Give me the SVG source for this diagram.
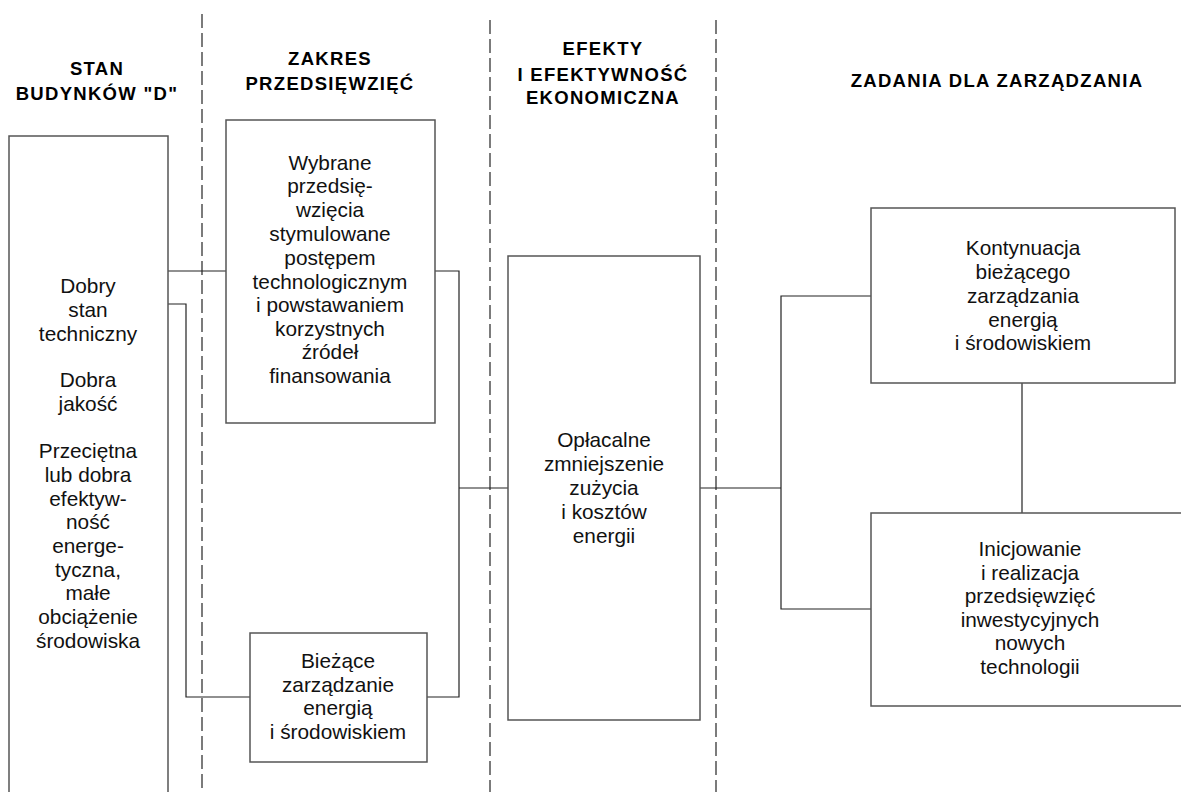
<svg xmlns="http://www.w3.org/2000/svg" width="1181" height="792" viewBox="0 0 1181 792">
<style>
.box{fill:#fff;stroke:#555;stroke-width:1.5}
.dash{stroke:#444;stroke-width:1.4;stroke-dasharray:14 5;fill:none}
.con{stroke:#222;stroke-width:1.2;fill:none}
.t{font-family:"Liberation Sans",Arial,sans-serif;font-size:20.8px;fill:#111;text-anchor:middle}
.h{font-family:"Liberation Sans",Arial,sans-serif;font-size:18.5px;font-weight:bold;fill:#000;text-anchor:middle;letter-spacing:1.3px}
</style>
<rect width="1181" height="792" fill="#fff"/>
<g id="dividers">
<line class="dash" x1="202" y1="14" x2="202" y2="792"/>
<line class="dash" x1="490" y1="20" x2="490" y2="792"/>
<line class="dash" x1="716" y1="20" x2="716" y2="792"/>
</g>
<g id="headers">
<text class="h" x="97" y="75">STAN</text>
<text class="h" x="97" y="100">BUDYNKÓW "D"</text>
<text class="h" x="330" y="65">ZAKRES</text>
<text class="h" x="330" y="90">PRZEDSIĘWZIĘĆ</text>
<text class="h" x="603" y="55">EFEKTY</text>
<text class="h" x="603" y="81">I EFEKTYWNOŚĆ</text>
<text class="h" x="603" y="104">EKONOMICZNA</text>
<text class="h" x="997" y="87">ZADANIA DLA ZARZĄDZANIA</text>
</g>
<g id="connectors">
<polyline class="con" points="168,271 226,271"/>
<polyline class="con" points="168,304 186,304 186,697 250,697"/>
<polyline class="con" points="435,271 459,271 459,697 427,697"/>
<polyline class="con" points="459,488 508,488"/>
<polyline class="con" points="700,488 781,488"/>
<polyline class="con" points="871,296 781,296 781,609 871,609"/>
<polyline class="con" points="1022,383 1022,513"/>
</g>
<g id="node-stan">
<rect class="box" x="9" y="136" width="159" height="680"/>
<text class="t"><tspan x="88" y="293">Dobry</tspan><tspan x="88" y="317">stan</tspan><tspan x="88" y="341">techniczny</tspan><tspan x="88" y="387">Dobra</tspan><tspan x="88" y="411">jakość</tspan><tspan x="88" y="458">Przeciętna</tspan><tspan x="88" y="482">lub dobra</tspan><tspan x="88" y="506">efektyw-</tspan><tspan x="88" y="529">ność</tspan><tspan x="88" y="553">energe-</tspan><tspan x="88" y="577">tyczna,</tspan><tspan x="88" y="600">małe</tspan><tspan x="88" y="624">obciążenie</tspan><tspan x="88" y="648">środowiska</tspan></text>
</g>
<g id="node-wybrane">
<rect class="box" x="226" y="120" width="209" height="303"/>
<text class="t"><tspan x="330" y="170">Wybrane</tspan><tspan x="330" y="193">przedsię-</tspan><tspan x="330" y="217">wzięcia</tspan><tspan x="330" y="241">stymulowane</tspan><tspan x="330" y="265">postępem</tspan><tspan x="330" y="289">technologicznym</tspan><tspan x="330" y="312">i powstawaniem</tspan><tspan x="330" y="336">korzystnych</tspan><tspan x="330" y="359">źródeł</tspan><tspan x="330" y="383">finansowania</tspan></text>
</g>
<g id="node-biezace">
<rect class="box" x="250" y="633" width="177" height="129"/>
<text class="t"><tspan x="338" y="668">Bieżące</tspan><tspan x="338" y="692">zarządzanie</tspan><tspan x="338" y="715">energią</tspan><tspan x="338" y="739">i środowiskiem</tspan></text>
</g>
<g id="node-oplacalne">
<rect class="box" x="508" y="256" width="192" height="464"/>
<text class="t"><tspan x="604" y="447">Opłacalne</tspan><tspan x="604" y="471">zmniejszenie</tspan><tspan x="604" y="495">zużycia</tspan><tspan x="604" y="519">i kosztów</tspan><tspan x="604" y="543">energii</tspan></text>
</g>
<g id="node-kontynuacja">
<rect class="box" x="871" y="208" width="304" height="175"/>
<text class="t"><tspan x="1023" y="255">Kontynuacja</tspan><tspan x="1023" y="279">bieżącego</tspan><tspan x="1023" y="303">zarządzania</tspan><tspan x="1023" y="327">energią</tspan><tspan x="1023" y="350">i środowiskiem</tspan></text>
</g>
<g id="node-inicjowanie">
<rect class="box" x="871" y="513" width="330" height="193"/>
<text class="t"><tspan x="1030" y="556">Inicjowanie</tspan><tspan x="1030" y="580">i realizacja</tspan><tspan x="1030" y="603">przedsięwzięć</tspan><tspan x="1030" y="627">inwestycyjnych</tspan><tspan x="1030" y="650">nowych</tspan><tspan x="1030" y="674">technologii</tspan></text>
</g>
</svg>
